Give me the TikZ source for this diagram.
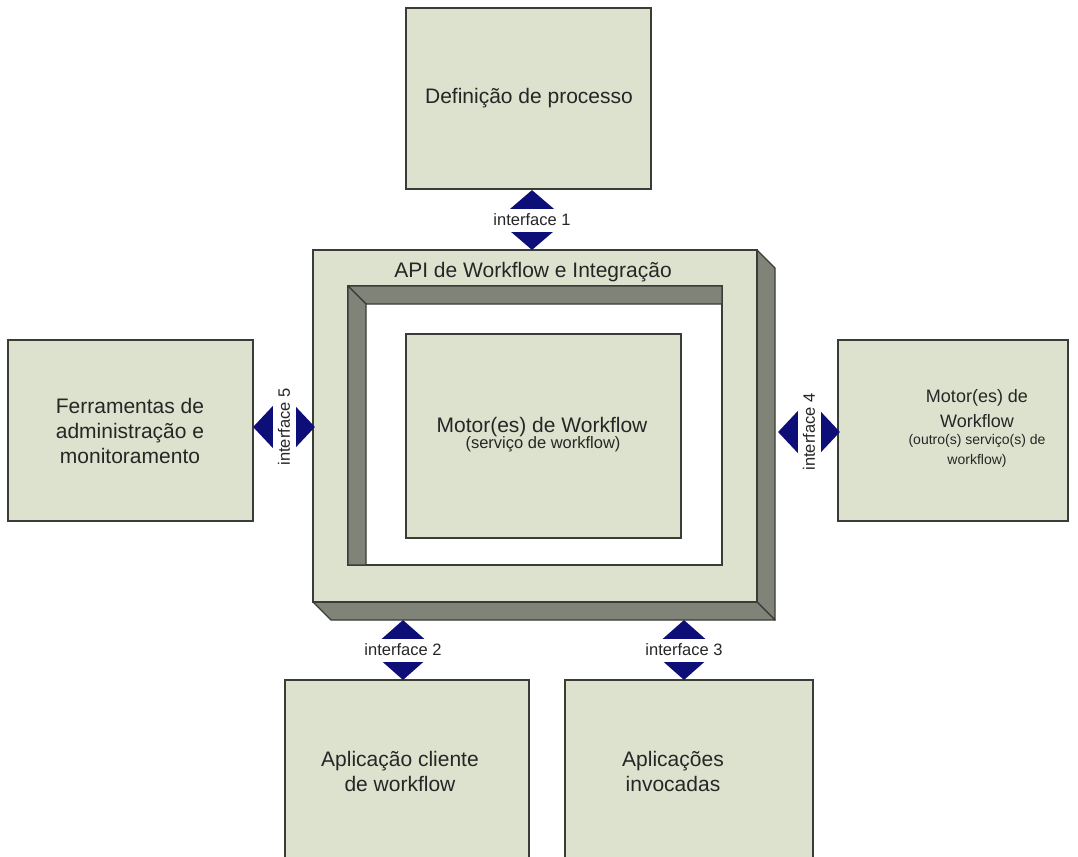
\documentclass[tikz,border=0pt]{standalone}
\usepackage{fontspec}
\setmainfont{Liberation Sans}
\usetikzlibrary{shapes.geometric}
\definecolor{boxfill}{RGB}{221,226,206}
\definecolor{sidefill}{RGB}{128,132,120}
\definecolor{navy}{RGB}{14,14,120}
\definecolor{edge}{RGB}{58,60,54}
\definecolor{ink}{RGB}{38,38,38}
\tikzset{
  panel/.style={draw=edge, line width=1.4pt, fill=boxfill, inner sep=0pt},
  sideface/.style={draw=edge, line width=1.4pt, fill=sidefill, line join=round},
  iface/.style={diamond, fill=navy, inner sep=0pt, draw=none},
  ifacelabel/.style={fill=white, inner xsep=3pt, inner ysep=0pt, minimum height=23pt,
                     text=ink, font=\fontsize{16.5}{18}\selectfont},
  bigtext/.style={text=ink, align=center, inner sep=0pt, font=\fontsize{21}{25}\selectfont},
  midtext/.style={text=ink, align=center, inner sep=0pt, font=\fontsize{18}{25}\selectfont},
  smalltext/.style={text=ink, align=center, inner sep=0pt, font=\fontsize{16.5}{20}\selectfont},
  tinytext/.style={text=ink, align=center, inner sep=0pt, font=\fontsize{14}{20}\selectfont}
}
\begin{document}
\begin{tikzpicture}[x=1pt,y=-1pt]
\useasboundingbox (0,0) rectangle (1078,856);
\clip (0,0) rectangle (1078,856);

% outer boxes
\node[panel, minimum width=245pt, minimum height=181pt] (def) at (528.5,98.5) {};
\node[panel, minimum width=245pt, minimum height=181pt] (adm) at (130.5,430.5) {};
\node[panel, minimum width=230pt, minimum height=181pt] (eng) at (953,430.5) {};
\node[panel, minimum width=244pt, minimum height=240pt] (cli) at (407,800) {};
\node[panel, minimum width=248pt, minimum height=240pt] (inv) at (689,800) {};

% API frame: depth faces, then the front face
\draw[sideface] (757,250) -- (775,268) -- (775,620) -- (757,602) -- cycle;
\draw[sideface] (313,602) -- (757,602) -- (775,620) -- (331,620) -- cycle;
\node[panel, minimum width=444pt, minimum height=352pt] (api) at (535,426) {};

% recessed area inside the frame
\draw[draw=edge, line width=1.4pt, fill=white] (348,286) rectangle (722,565);
\draw[sideface] (348,286) -- (722,286) -- (722,304) -- (366,304) -- cycle;
\draw[sideface] (348,286) -- (366,304) -- (366,565) -- (348,565) -- cycle;
\node[panel, minimum width=275pt, minimum height=204pt] (core) at (543.5,436) {};

% texts
\node[bigtext, anchor=base] (tdef) at (529,103) {Definição de processo};
\node[bigtext, anchor=base] (tapi) at (533,277) {API de Workflow e Integração};
\node[bigtext, anchor=base] (tcore) at (542,432) {Motor(es) de Workflow};
\node[smalltext, anchor=base] (tcoresub) at (543,448) {(serviço de workflow)};
\node[bigtext] (tadm) at (130,431) {Ferramentas de\\administração e\\monitoramento};
\node[midtext] (teng) at (977,409) {Motor(es) de\\Workflow};
\node[tinytext] (tengsub) at (977,451) {(outro(s) serviço(s) de\\workflow)};
\node[bigtext] (tcli) at (400,771) {Aplicação cliente\\de workflow};
\node[bigtext] (tinv) at (673,771) {Aplicações\\invocadas};

% interfaces
\node[iface, minimum width=70pt, minimum height=60pt] (i1) at (532,220) {};
\node[ifacelabel] (l1) at (i1.center) {interface 1};
\node[iface, minimum width=68pt, minimum height=60pt] (i2) at (403,650) {};
\node[ifacelabel] (l2) at (i2.center) {interface 2};
\node[iface, minimum width=68pt, minimum height=60pt] (i3) at (684,650) {};
\node[ifacelabel] (l3) at (i3.center) {interface 3};
\node[iface, minimum width=62pt, minimum height=66pt] (i4) at (809,432) {};
\node[ifacelabel, rotate=90] (l4) at (i4.center) {interface 4};
\node[iface, minimum width=62pt, minimum height=66pt] (i5) at (284,427) {};
\node[ifacelabel, rotate=90] (l5) at (i5.center) {interface 5};
\end{tikzpicture}
\end{document}
